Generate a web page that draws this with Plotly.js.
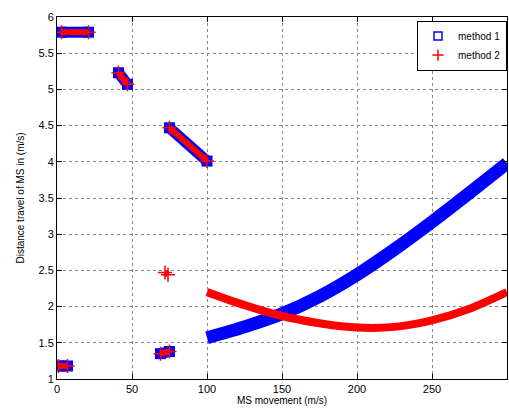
<!DOCTYPE html>
<html>
<head>
<meta charset="utf-8">
<script src="https://cdn.plot.ly/plotly-3.0.1.min.js"></script>
<style>html,body{margin:0;padding:0;background:#fff;}#chart{width:509px;height:416px;}</style>
</head>
<body>
<div id="chart"></div>
<script>
// ---- data ----
// segments shared by both methods
const segA_x = [3, 21];          const segA_y = [5.79, 5.79];
const segB_x = [41, 47];         const segB_y = [5.23, 5.07];
const segC_x = [75, 100];        const segC_y = [4.47, 4.01];
const segD_x = [1, 7];           const segD_y = [1.18, 1.18];
const segE_x = [69, 75];         const segE_y = [1.35, 1.38];
// red-only small cluster
const redDot_x = [72, 74];       const redDot_y = [2.47, 2.44];
// continuous curves from x = 100 to 300
const curve_x  = [100, 125, 150, 175, 200, 225, 250, 275, 300];
const m1_curve = [1.57, 1.72, 1.90, 2.14, 2.44, 2.79, 3.17, 3.57, 3.98];
const m2_curve = [2.20, 2.02, 1.87, 1.77, 1.71, 1.72, 1.81, 1.97, 2.20];
// labels
const seriesNames = ['method 1', 'method 2'];
const xTicks = [0, 50, 100, 150, 200, 250, 300];
const yTicks = [1, 1.5, 2, 2.5, 3, 3.5, 4, 4.5, 5, 5.5, 6];

function join(segs) {
  const xs = [], ys = [];
  segs.forEach((s, i) => {
    if (i > 0) { xs.push(null); ys.push(null); }
    xs.push(...s[0]); ys.push(...s[1]);
  });
  return [xs, ys];
}
const shared = [[segA_x, segA_y], [segB_x, segB_y], [segC_x, segC_y], [segD_x, segD_y], [segE_x, segE_y]];
const [m1x, m1y] = join(shared);
const [m2x, m2y] = join([...shared, [redDot_x, redDot_y]]);

const BLUE = '#0000ff', RED = '#ff0000';
const traces = [
  // legend-only marker traces (drawn underneath the bands)
  {x: segA_x, y: segA_y, mode: 'markers', name: seriesNames[0],
   marker: {symbol: 'square-open', size: 8, color: BLUE, line: {width: 1.5, color: BLUE}}},
  {x: segA_x, y: segA_y, mode: 'markers', name: seriesNames[1],
   marker: {symbol: 'cross-thin-open', size: 8, color: RED, line: {width: 1.5, color: RED}}},
  // method 1 short segments
  {x: m1x, y: m1y, mode: 'lines+markers', showlegend: false, connectgaps: false,
   line: {color: BLUE, width: 11}, marker: {symbol: 'square', size: 11, color: BLUE}},
  // method 1 curve
  {x: curve_x, y: m1_curve, mode: 'lines', showlegend: false,
   line: {color: BLUE, width: 13, shape: 'spline', smoothing: 0.8}},
  // method 2 short segments
  {x: m2x, y: m2y, mode: 'lines+markers', showlegend: false, connectgaps: false, line: {color: RED, width: 6},
   marker: {symbol: 'cross-thin-open', size: 10, color: RED, line: {width: 1.5, color: RED}}},
  // method 2 curve
  {x: curve_x, y: m2_curve, mode: 'lines', showlegend: false,
   line: {color: RED, width: 8, shape: 'spline', smoothing: 0.8}}
];

const axisCommon = {
  showline: true, mirror: 'ticks', linecolor: '#000', linewidth: 1,
  ticks: 'inside', ticklen: 5, tickcolor: '#000',
  showgrid: true, gridcolor: '#888', griddash: 'dot', gridwidth: 1,
  zeroline: false, automargin: false,
  tickfont: {family: 'Liberation Sans, Arial, sans-serif', size: 11, color: '#000'}
};

const layout = {
  width: 509, height: 416,
  margin: {l: 57, r: 2, t: 17, b: 37},
  paper_bgcolor: '#fff', plot_bgcolor: '#fff',
  font: {family: 'Liberation Sans, Arial, sans-serif', size: 10, color: '#000'},
  xaxis: Object.assign({}, axisCommon, {
    range: [0, 300], tickvals: xTicks, ticktext: xTicks.map(String),
    title: {text: 'MS movement (m/s)', font: {size: 10}, standoff: 2}
  }),
  yaxis: Object.assign({}, axisCommon, {
    range: [1, 6], tickvals: yTicks, ticktext: yTicks.map(String),
    title: {text: 'Distance travel of MS in (m/s)', font: {size: 10}, standoff: 12}
  }),
  legend: {x: 1, y: 0.99, xanchor: 'right', yanchor: 'top', bgcolor: '#fff',
           bordercolor: '#000', borderwidth: 1, font: {size: 10}, itemwidth: 30,
           tracegroupgap: 4},
  showlegend: true
};

Plotly.newPlot('chart', traces, layout, {displayModeBar: false, staticPlot: true});
</script>
</body>
</html>
